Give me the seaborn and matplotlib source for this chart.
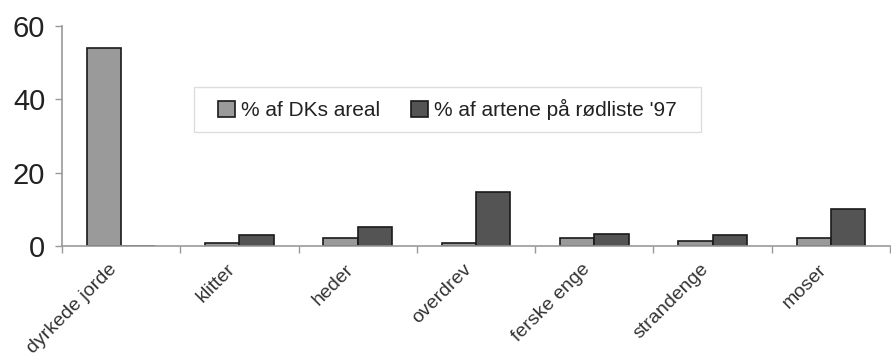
import numpy as np
import pandas as pd
import seaborn as sns
import matplotlib.pyplot as plt
from matplotlib.patches import Rectangle
from matplotlib.ticker import FixedLocator

categories = ["dyrkede jorde", "klitter", "heder", "overdrev",
              "ferske enge", "strandenge", "moser"]
areal = [54.0, 0.8, 2.2, 0.8, 2.3, 1.4, 2.3]
roedliste = [0.0, 3.0, 5.2, 14.8, 3.2, 3.0, 10.0]
series_names = ["% af DKs areal", "% af artene på rødliste '97"]
yticks = [0, 20, 40, 60]

df = pd.DataFrame({
    "kategori": categories * 2,
    "serie": [series_names[0]] * len(categories) + [series_names[1]] * len(categories),
    "procent": areal + roedliste,
})

sns.set_theme(style="white")
plt.rcParams["font.family"] = ["Liberation Sans", "DejaVu Sans"]

fig = plt.figure(figsize=(8.91, 3.59), dpi=100)
ax = fig.add_axes([62 / 891, 1 - 246 / 359, (890 - 62) / 891, (246 - 26) / 359])

sns.barplot(data=df, x="kategori", y="procent", hue="serie",
            palette=["#9a9a9a", "#545454"], width=0.58, saturation=1,
            edgecolor="#1a1a1a", linewidth=1.2, ax=ax)

ax.set_xlim(-0.5, len(categories) - 0.5)
ax.set_ylim(0, 60)
ax.set_yticks(yticks)
ax.set_yticklabels([str(v) for v in yticks], fontsize=21, color="#222222")
ax.set_xlabel("")
ax.set_ylabel("")

# rotated category labels, anchored slightly left of each group centre
ax.set_xticks(np.arange(len(categories)) - 0.06)
ax.set_xticklabels(categories, rotation=45, ha="right", va="center",
                   rotation_mode="anchor", fontsize=14, color="#333333")
ax.xaxis.set_minor_locator(FixedLocator(np.arange(-0.5, len(categories), 1.0)))
ax.tick_params(axis="x", which="major", length=0, pad=15)
ax.tick_params(axis="x", which="minor", length=5, width=1, color="#999999", bottom=True)
ax.tick_params(axis="y", length=5, width=1, color="#999999", left=True, pad=7)

for side in ["top", "right"]:
    ax.spines[side].set_visible(False)
for side in ["left", "bottom"]:
    ax.spines[side].set_color("#999999")
    ax.spines[side].set_linewidth(1.2)

leg = ax.legend(loc="upper left", bbox_to_anchor=((218 - 62) / 828, (246 - 99) / 220),
                borderaxespad=0, ncol=2, frameon=False, fontsize=15,
                handlelength=0.8, handleheight=0.8, handletextpad=0.3,
                columnspacing=1.5, borderpad=0.0, title=None)
for t in leg.get_texts():
    t.set_color("#222222")
leg.set_zorder(6)

# light frame around the legend with wider side margins
fig.canvas.draw()
bb = leg.get_window_extent().transformed(fig.transFigure.inverted())
padx, pady = 24 / 891, 12 / 359
frame = Rectangle((bb.x0 - padx, bb.y0 - pady), bb.width + 2 * padx, bb.height + 2 * pady,
                  transform=fig.transFigure, facecolor="white", edgecolor="#dddddd",
                  linewidth=1.0, zorder=5, clip_on=False)
ax.add_artist(frame)

fig.savefig("out.png", dpi=100)
